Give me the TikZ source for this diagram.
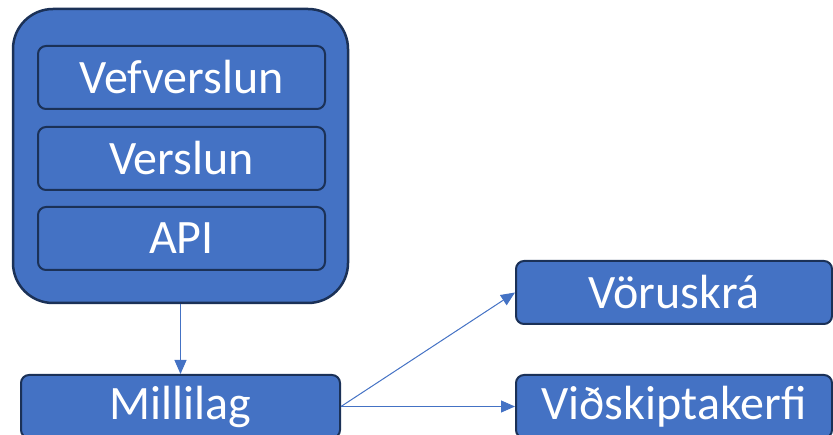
\documentclass[tikz,border=0pt]{standalone}
\usepackage{fontspec}
\setmainfont{Carlito}
\usetikzlibrary{arrows.meta}
\definecolor{boxblue}{HTML}{4472C4}
\definecolor{boxline}{HTML}{1B3157}
\tikzset{
  block/.style={draw=boxline, fill=boxblue, line width=2pt, rounded corners=8pt,
    text=white, font=\fontsize{48}{52}\selectfont, inner sep=0pt},
  link/.style={draw=boxblue, line width=1pt, -{Triangle[length=14pt, width=12pt]}}
}
\begin{document}
\begin{tikzpicture}[x=1pt, y=-1pt]
\useasboundingbox (0,0) rectangle (833,435);
\node[block, rounded corners=40pt, line width=2.5pt, minimum width=335pt, minimum height=294pt] (app) at (180.5,156){};
\node[block, minimum width=287pt, minimum height=63pt] (vef) at (181.5,77.5){Vefverslun};
\node[block, minimum width=287pt, minimum height=63pt] (verslun) at (181.5,158.5){Verslun};
\node[block, minimum width=287pt, minimum height=63pt] (api) at (181.5,238.5){API};
\node[block, minimum width=319pt, minimum height=63pt] (millilag) at (180.5,406.5){Millilag};
\node[block, minimum width=316pt, minimum height=63pt] (voru) at (674,292.5){Vöruskrá};
\node[block, minimum width=316pt, minimum height=63pt] (vidsk) at (674,406.5){Viðskiptakerfi};
\draw[link] (app) -- (millilag);
\draw[link] (millilag.east) -- (voru.west);
\draw[link] (millilag.east) -- (vidsk.west);
\end{tikzpicture}
\end{document}
